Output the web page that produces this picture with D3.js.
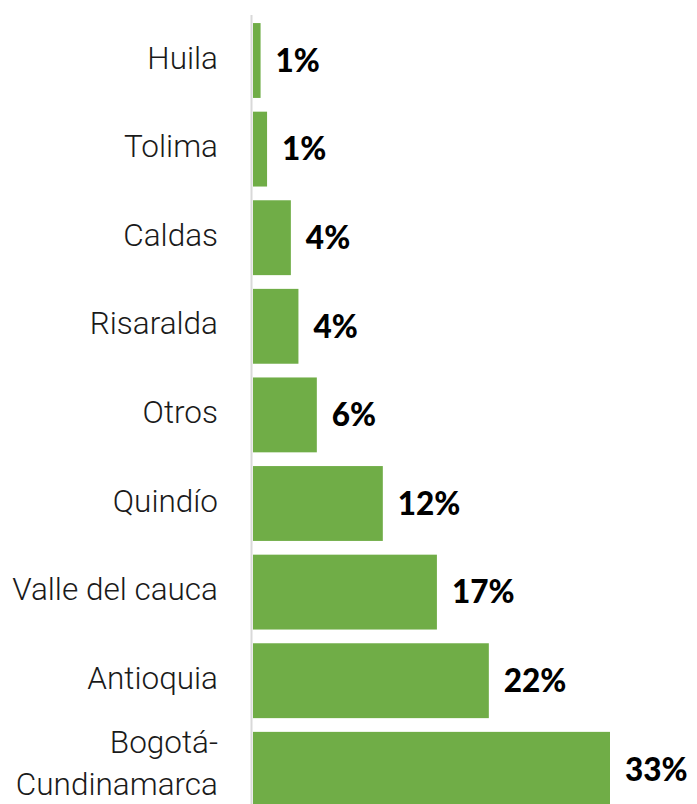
<!DOCTYPE html>
<html>
<head>
<meta charset="utf-8">
<script src="https://cdn.jsdelivr.net/npm/d3@7"></script>
<style>
  body { margin: 0; background: #fff; }
  #vis { width: 697px; height: 804px; }
</style>
</head>
<body>
<div id="vis"></div>
<script>
// categories top to bottom
var regions = ['Huila', 'Tolima', 'Caldas', 'Risaralda', 'Otros', 'Quindío', 'Valle del cauca', 'Antioquia', 'Bogotá-Cundinamarca'];
// share in percent
var shares = [0.7, 1.3, 3.5, 4.2, 5.9, 12.0, 17.0, 21.8, 33.0];

var width = 697,
    height = 804;

var svg = d3.select('#vis')
    .append('svg')
    .attr('width', width)
    .attr('height', height);

var data = regions.map(function(r, i) {
    return { name: r, value: shares[i] };
});

var y_scale = d3.scaleBand()
    .domain(regions)
    .range([16.2, 813.6])
    .paddingInner(0.155)
    .paddingOuter(0.0775);

var x_scale = d3.scaleLinear()
    .domain([0, 33])
    .range([253, 610]);

// vertical axis line
svg.append('line')
    .attr('x1', 251.5)
    .attr('x2', 251.5)
    .attr('y1', 15)
    .attr('y2', height)
    .attr('stroke', '#d9d9d9')
    .attr('stroke-width', 2);

svg.selectAll('.bar')
    .data(data)
    .enter()
    .append('rect')
    .attr('class', 'bar')
    .attr('x', x_scale(0))
    .attr('y', function(d) { return y_scale(d.name); })
    .attr('width', function(d) { return x_scale(d.value) - x_scale(0); })
    .attr('height', y_scale.bandwidth())
    .attr('fill', '#70ad47');

// value labels
svg.selectAll('.val')
    .data(data)
    .enter()
    .append('text')
    .attr('class', 'val')
    .attr('x', function(d) { return x_scale(d.value) + 15; })
    .attr('y', function(d) { return y_scale(d.name) + y_scale.bandwidth() / 2; })
    .attr('dy', '0.36em')
    .style('font-family', 'Lato, Roboto, sans-serif')
    .style('font-weight', 900)
    .style('font-size', '31.5px')
    .attr('fill', '#000')
    .text(function(d) { return Math.round(d.value) + '%'; });

// category labels (split on hyphen for the long one)
var labels = svg.selectAll('.cat')
    .data(data)
    .enter()
    .append('text')
    .attr('class', 'cat')
    .attr('text-anchor', 'end')
    .style('font-family', 'Roboto, sans-serif')
    .style('font-weight', 300)
    .style('font-size', '31.5px')
    .attr('fill', '#1a1a1a');

labels.each(function(d) {
    var parts = d.name.indexOf('-') > 0 ? [d.name.split('-')[0] + '-', d.name.split('-')[1]] : [d.name];
    var cy = y_scale(d.name) + y_scale.bandwidth() / 2;
    var t = d3.select(this);
    parts.forEach(function(p, i) {
        t.append('tspan')
            .attr('x', 218)
            .attr('y', cy + 8 + (i - (parts.length - 1) / 2) * 42 - (parts.length > 1 ? 3 : 0))
            .text(p);
    });
});
</script>
</body>
</html>
